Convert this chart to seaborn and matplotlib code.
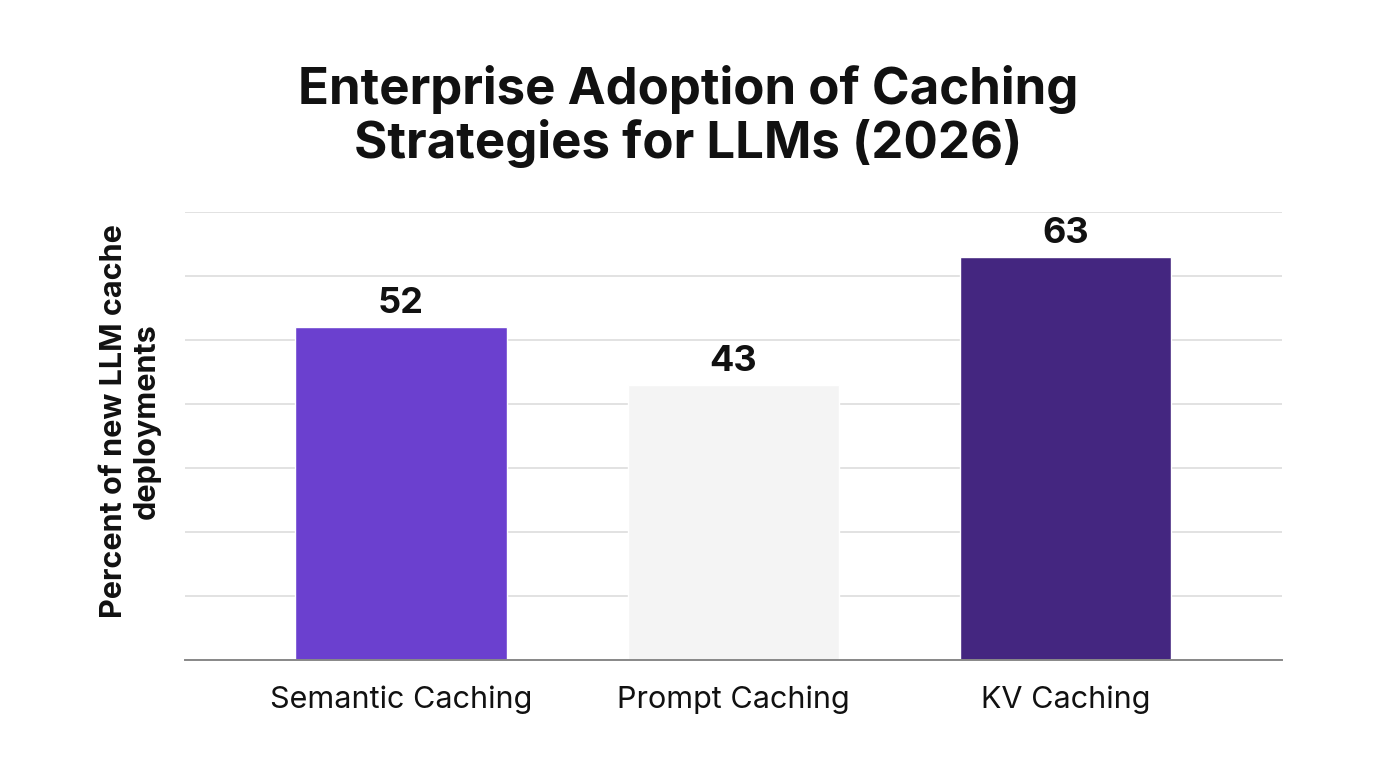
import matplotlib
matplotlib.use("Agg")
import matplotlib.pyplot as plt
import seaborn as sns
import pandas as pd

# Enterprise adoption of caching strategies for LLMs (2026)
strategies = ["Semantic Caching", "Prompt Caching", "KV Caching"]
percent = [52, 43, 63]
bar_colors = ["#6B40CF", "#F4F4F4", "#442680"]

df = pd.DataFrame({"Strategy": strategies, "Percent": percent})

sns.set_theme(style="white")
plt.rcParams["font.family"] = ["Inter", "DejaVu Sans"]

fig = plt.figure(figsize=(13.76, 7.68), dpi=100)
ax = fig.add_axes([0.1344, 0.1406, 0.7973, 0.5834])

sns.barplot(data=df, x="Strategy", y="Percent", hue="Strategy",
            palette=bar_colors, width=0.635, saturation=1, legend=False, ax=ax)

ax.set_xlim(-0.65, 2.65)
ax.set_ylim(0, 70)
ax.set_yticks(range(0, 71, 10))
ax.yaxis.grid(True, color="#DDDDDD", linewidth=1.2)
ax.set_axisbelow(True)
ax.tick_params(axis="y", left=False, labelleft=False)
ax.tick_params(axis="x", bottom=False, labelsize=22, pad=12, colors="#111111")

for side in ["top", "right", "left"]:
    ax.spines[side].set_visible(False)
ax.spines["bottom"].set_color("#888888")
ax.spines["bottom"].set_linewidth(1.4)

for patch, val in zip(ax.patches, percent):
    ax.annotate(str(val), (patch.get_x() + patch.get_width() / 2, patch.get_height()),
                xytext=(0, 5), textcoords="offset points", ha="center", va="bottom",
                fontsize=26, fontweight="bold", color="#111111")

ax.set_xlabel("")
ax.set_ylabel("Percent of new LLM cache\ndeployments", fontsize=22, fontweight="bold",
              color="#111111", linespacing=1.2)
ax.yaxis.set_label_coords(-0.022, 0.533)

fig.suptitle("Enterprise Adoption of Caching\nStrategies for LLMs (2026)", x=0.5, y=0.915,
             fontsize=36.7, fontweight="bold", color="#111111", linespacing=1.12)

fig.savefig("out.png", dpi=100, facecolor="white")
